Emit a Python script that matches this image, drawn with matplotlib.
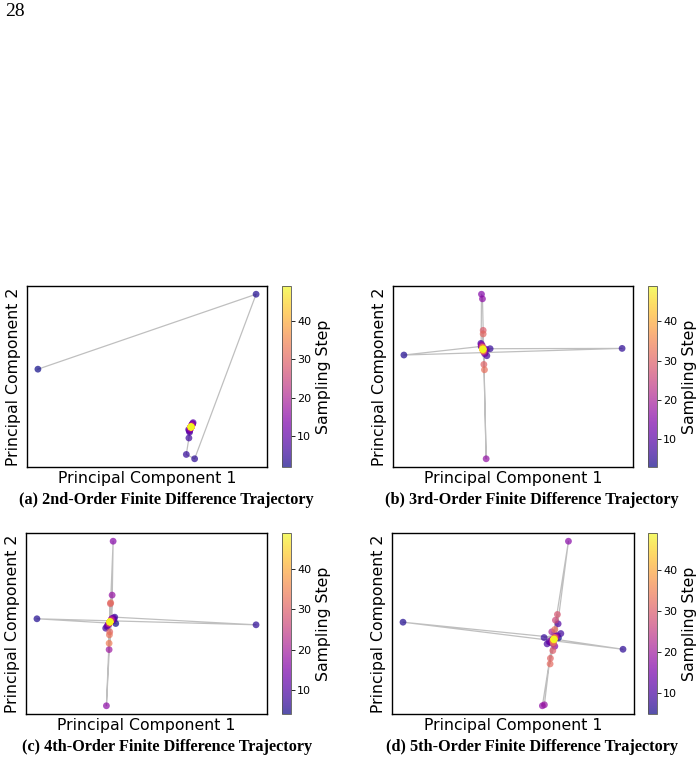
import numpy as np
import matplotlib.pyplot as plt

# sampling steps for each finite-difference order
STEPS_A = list(range(2, 50))
STEPS_B = list(range(3, 50))
STEPS_C = list(range(4, 50))
STEPS_D = list(range(5, 50))

# (a) 2nd order trajectory, PC1 / PC2
PC1_A = [10.7, 228.3, 167.0, 158.7, 161.3, 162.0, 161.0, 165.5, 161.8, 165.0,
         162.2, 164.8, 162.5, 164.3, 162.8, 164.0, 162.6, 164.2, 163.0, 164.0,
         162.9, 163.8, 163.1, 163.7, 163.2, 163.6, 163.3, 163.5, 163.3, 163.5,
         163.4, 163.5, 163.4, 163.5, 163.4, 163.45, 163.4, 163.45, 163.4, 163.42,
         163.4, 163.42, 163.41, 163.42, 163.41, 163.42, 163.41, 163.41]
PC2_A = [97.3, 172.0, 8.0, 12.3, 28.7, 34.5, 37.0, 44.0, 35.5, 43.0,
         36.8, 42.5, 37.5, 42.0, 38.0, 41.5, 38.5, 41.0, 38.8, 40.6,
         39.0, 40.4, 39.2, 40.2, 39.3, 40.1, 39.4, 40.0, 39.5, 39.9,
         39.6, 39.8, 39.6, 39.8, 39.65, 39.75, 39.65, 39.72, 39.68, 39.7,
         39.68, 39.7, 39.69, 39.7, 39.69, 39.7, 39.7, 39.7]

# (b) 3rd order trajectory
PC1_B = [88.0, 10.3, 229.7, 97.0, 93.7, 87.7, 92.0, 88.5, 93.0, 89.0,
         91.5, 88.0, 88.3, 89.3, 93.0, 90.5, 89.0, 91.0, 88.5, 90.8,
         89.0, 90.5, 89.2, 90.3, 89.3, 90.0, 90.0, 90.7, 90.0, 91.3,
         89.5, 90.0, 89.6, 89.9, 89.7, 89.8, 89.7, 89.75, 89.7, 89.72,
         89.7, 89.72, 89.71, 89.7, 89.71, 89.7, 89.7]
PC2_B = [120.3, 111.7, 118.3, 118.0, 111.0, 123.3, 115.0, 121.0, 117.5, 119.5,
         113.0, 122.0, 172.3, 167.7, 8.3, 116.0, 121.5, 114.5, 120.5, 115.5,
         120.0, 116.5, 119.0, 116.8, 118.8, 117.0, 136.3, 102.3, 132.7, 97.0,
         119.5, 115.5, 118.8, 116.2, 118.2, 116.8, 117.8, 117.1, 117.6, 117.3,
         117.5, 117.4, 117.5, 117.45, 117.5, 117.5, 117.5]

# (c) 4th order trajectory
PC1_C = [89.3, 10.7, 229.3, 88.3, 79.3, 87.5, 80.5, 87.0, 81.5, 86.0,
         82.0, 85.5, 86.7, 80.0, 85.7, 82.7, 85.0, 82.5, 84.8, 82.8,
         84.5, 83.0, 84.2, 83.2, 84.0, 83.4, 84.0, 83.3, 84.3, 83.0,
         82.7, 83.8, 83.2, 83.7, 83.4, 83.6, 83.5, 83.55, 83.5, 83.52,
         83.5, 83.52, 83.51, 83.5, 83.51, 83.5]
PC2_C = [90.0, 94.7, 88.7, 96.3, 85.3, 94.0, 87.0, 95.5, 88.5, 93.0,
         89.0, 95.0, 172.0, 8.0, 118.3, 64.0, 94.0, 89.5, 93.5, 90.0,
         93.0, 90.5, 92.5, 91.0, 92.2, 91.2, 109.7, 81.7, 110.7, 78.7,
         70.3, 92.0, 91.0, 91.9, 91.4, 91.8, 91.5, 91.7, 91.55, 91.65,
         91.6, 91.62, 91.6, 91.61, 91.6, 91.6]

# (d) 5th order trajectory
PC1_D = [166.3, 11.3, 230.7, 152.0, 168.7, 155.0, 166.0, 157.0, 165.0, 158.5,
         163.5, 162.7, 176.3, 150.3, 152.3, 160.0, 164.0, 159.7, 161.0, 163.0,
         160.5, 162.5, 163.3, 161.5, 165.3, 160.7, 158.3, 158.0, 162.7, 161.0,
         162.5, 161.3, 162.2, 161.6, 162.0, 161.7, 161.9, 161.8, 161.85, 161.8,
         161.82, 161.8, 161.81, 161.8, 161.8]
PC2_D = [75.7, 91.3, 64.3, 76.0, 80.0, 69.7, 89.7, 72.0, 78.0, 71.0,
         77.5, 67.3, 172.0, 8.0, 9.0, 74.0, 76.5, 81.7, 72.5, 76.0,
         73.0, 75.5, 93.3, 69.5, 99.0, 63.0, 55.3, 49.7, 84.0, 71.0,
         76.0, 73.0, 75.2, 73.6, 74.6, 73.9, 74.4, 74.1, 74.3, 74.15,
         74.25, 74.2, 74.22, 74.2, 74.2]

CAPTIONS = ["(a) 2nd-Order Finite Difference Trajectory",
            "(b) 3rd-Order Finite Difference Trajectory",
            "(c) 4th-Order Finite Difference Trajectory",
            "(d) 5th-Order Finite Difference Trajectory"]

W, H = 700, 763
fig = plt.figure(figsize=(7.0, 7.63), dpi=100)

def box(x0, y_top, x1, y_bot):
    # pixel box -> figure fraction
    return [x0 / W, 1 - y_bot / H, (x1 - x0) / W, (y_bot - y_top) / H]

# data, axes box, colorbar x-range, caption centre (px)
panels = [
    (PC1_A, PC2_A, STEPS_A, (27, 286, 267, 467), (282, 291), (166, 500)),
    (PC1_B, PC2_B, STEPS_B, (393, 286, 633, 467), (648, 657), (532, 500)),
    (PC1_C, PC2_C, STEPS_C, (26, 533, 267, 714), (282, 291), (167, 747)),
    (PC1_D, PC2_D, STEPS_D, (392, 533, 634, 714), (648, 657), (532, 747)),
]

for i, (px, py, st, ab, cb, cap) in enumerate(panels):
    ax = fig.add_axes(box(*ab))
    cax = fig.add_axes(box(cb[0], ab[1], cb[1], ab[3]))

    ax.plot(px, py, color="gray", alpha=0.5, linewidth=0.9, zorder=1)
    sc = ax.scatter(px, py, c=st, cmap="plasma", s=24, alpha=0.7,
                    linewidths=0, zorder=2)
    ax.set_xticks([])
    ax.set_yticks([])
    for sp in ax.spines.values():
        sp.set_linewidth(1.0)
    ax.set_xlabel("Principal Component 1", fontsize=11.3, labelpad=3)
    ax.set_ylabel("Principal Component 2", fontsize=11.3, labelpad=4)

    cbar = fig.colorbar(sc, cax=cax)
    cbar.set_ticks([10, 20, 30, 40])
    cbar.ax.tick_params(labelsize=8, length=3, width=0.6, pad=1.5)
    cbar.outline.set_linewidth(0.6)
    cbar.outline.set_edgecolor("#555555")
    cbar.set_label("Sampling Step", fontsize=11.3, labelpad=3)

    fig.text(cap[0] / W, 1 - cap[1] / H, CAPTIONS[i], ha="center", va="center",
             fontsize=11.7, fontweight="bold", family="Liberation Serif")

fig.text(5 / W, 1 - 12 / H, "28", ha="left", va="center", fontsize=14,
         family="Liberation Serif")

fig.savefig("out.png", dpi=100)
